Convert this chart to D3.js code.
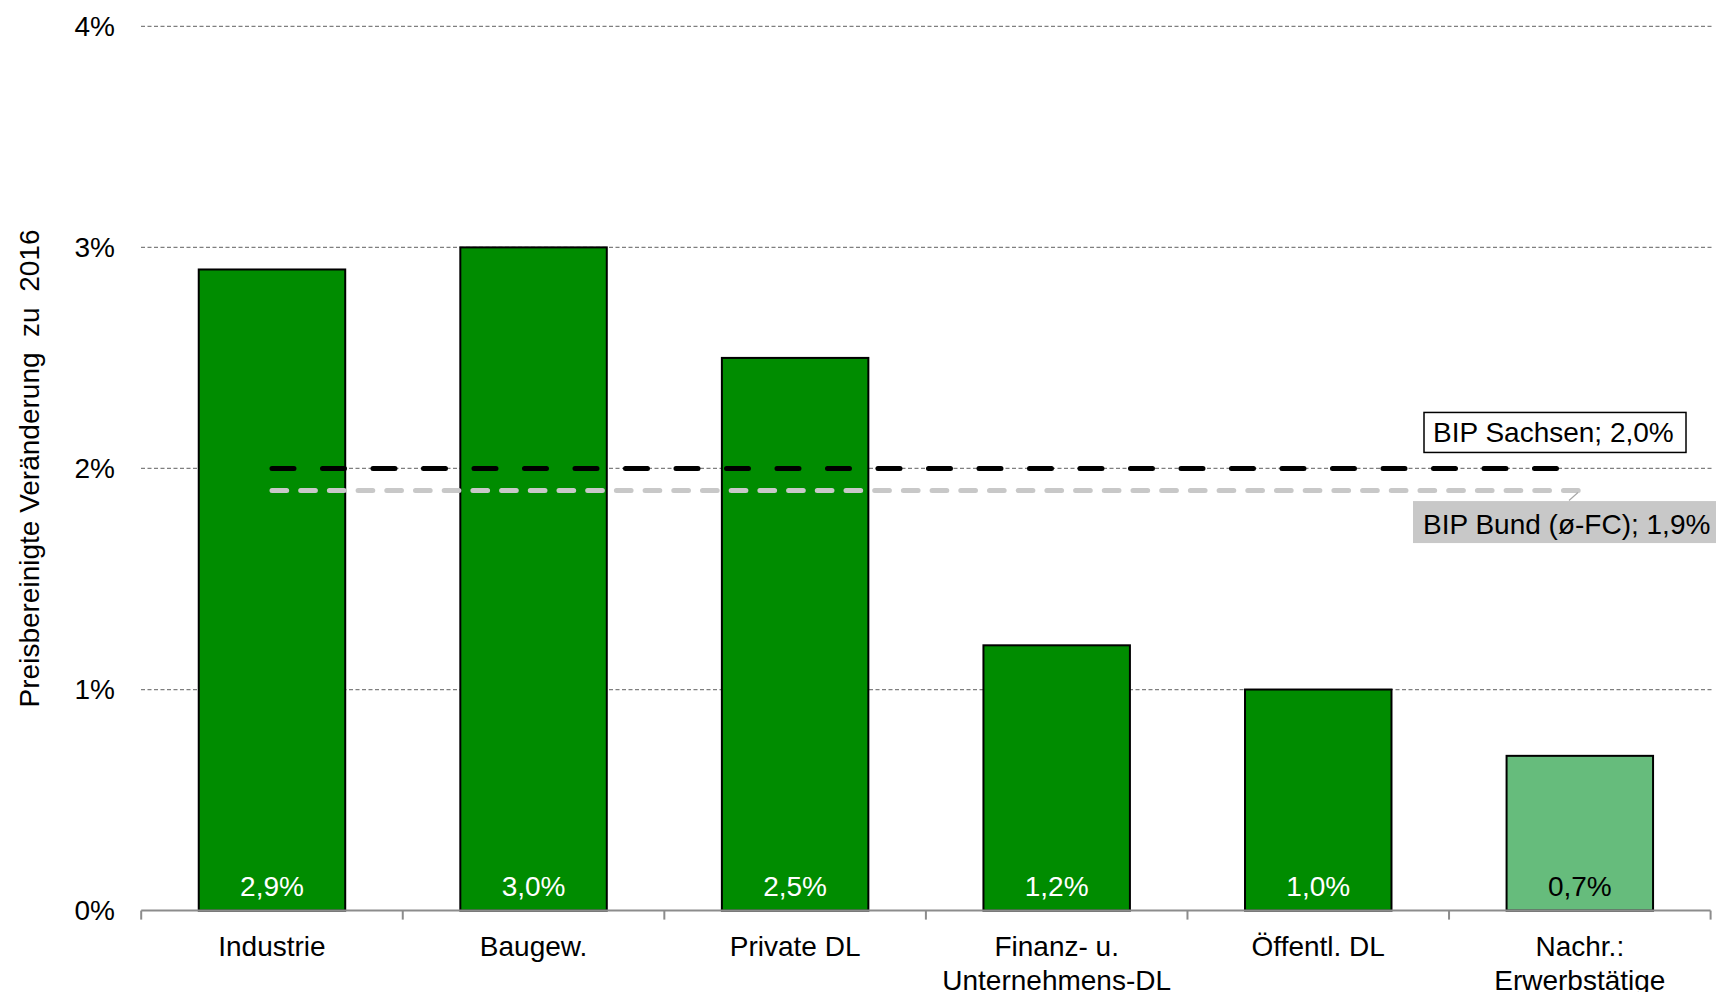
<!DOCTYPE html>
<html lang="de">
<head>
<meta charset="utf-8">
<script src="https://cdn.jsdelivr.net/npm/d3@7"></script>
<style>
  html, body { margin: 0; padding: 0; background: #ffffff; }
  svg { display: block; font-family: "Liberation Sans", Arial, sans-serif; }
</style>
</head>
<body>
<svg id="chart" width="1716" height="992"></svg>
<script>
// Sectors and their real change vs. 2016 (percent)
const categories = [
  ["Industrie"],
  ["Baugew."],
  ["Private DL"],
  ["Finanz- u.", "Unternehmens-DL"],
  ["Öffentl. DL"],
  ["Nachr.:", "Erwerbstätige"]
];
const values = [2.9, 3.0, 2.5, 1.2, 1.0, 0.7];
const valueLabels = ["2,9%", "3,0%", "2,5%", "1,2%", "1,0%", "0,7%"];
const memoFlags = [false, false, false, false, false, true];

// Reference lines (GDP growth)
const refNames = ["BIP Sachsen; 2,0%", "BIP Bund (ø-FC); 1,9%"];
const refValues = [2.0, 1.9];

const yTicks = [0, 1, 2, 3, 4];
const yTickLabels = ["0%", "1%", "2%", "3%", "4%"];
const yTitle = "Preisbereinigte Veränderung  zu  2016";

const svg = d3.select("#chart");
const FONT = 28;
const GREEN = "#008c00";
const LIGHT_GREEN = "#66bc7c";

const keys = categories.map(c => c.join(" "));
const x = d3.scaleBand()
  .domain(keys)
  .range([141.2, 1710.6])
  .paddingInner(0.44)
  .paddingOuter(0.22);

const y = d3.scaleLinear()
  .domain([0, 4])
  .range([910.6, 26.3]);

// Horizontal dashed gridlines
svg.append("g")
  .selectAll("line")
  .data(yTicks.filter(t => t > 0))
  .join("line")
  .attr("x1", 141).attr("x2", 1713)
  .attr("y1", d => y(d)).attr("y2", d => y(d))
  .attr("stroke", "#7f7f7f")
  .attr("stroke-width", 1.2)
  .attr("stroke-dasharray", "4,2.5");

// Y tick labels
svg.append("g")
  .selectAll("text")
  .data(yTicks)
  .join("text")
  .attr("x", 115)
  .attr("y", d => y(d))
  .attr("dy", "0.35em")
  .attr("text-anchor", "end")
  .attr("font-size", FONT)
  .attr("fill", "#000")
  .text((d, i) => yTickLabels[i]);

// Y axis title
svg.append("text")
  .attr("transform", `translate(39, ${(y(0) + y(4)) / 2}) rotate(-90)`)
  .attr("text-anchor", "middle")
  .attr("font-size", FONT)
  .style("white-space", "pre")
  .attr("fill", "#000")
  .text(yTitle);

// Bars
svg.append("g")
  .selectAll("rect")
  .data(values)
  .join("rect")
  .attr("x", (d, i) => x(keys[i]))
  .attr("y", d => y(d))
  .attr("width", x.bandwidth())
  .attr("height", d => y(0) - y(d))
  .attr("fill", (d, i) => memoFlags[i] ? LIGHT_GREEN : GREEN)
  .attr("stroke", "#000")
  .attr("stroke-width", 2);

// Value labels at the foot of each bar
svg.append("g")
  .selectAll("text")
  .data(values)
  .join("text")
  .attr("x", (d, i) => x(keys[i]) + x.bandwidth() / 2)
  .attr("y", y(0) - 15)
  .attr("text-anchor", "middle")
  .attr("font-size", FONT)
  .attr("fill", (d, i) => memoFlags[i] ? "#000" : "#fff")
  .text((d, i) => valueLabels[i]);

// Category axis: baseline and tick marks between categories
const step = x.step();
const x0 = x.range()[0];
svg.append("line")
  .attr("x1", x0).attr("x2", x.range()[1])
  .attr("y1", y(0)).attr("y2", y(0))
  .attr("stroke", "#8c8c8c")
  .attr("stroke-width", 2);
svg.append("g")
  .selectAll("line")
  .data(d3.range(keys.length + 1))
  .join("line")
  .attr("x1", i => x0 + i * step).attr("x2", i => x0 + i * step)
  .attr("y1", y(0)).attr("y2", y(0) + 9)
  .attr("stroke", "#8c8c8c")
  .attr("stroke-width", 2);

// Category labels (up to two lines)
const catLabels = svg.append("g")
  .selectAll("text")
  .data(categories)
  .join("text")
  .attr("x", (d, i) => x(keys[i]) + x.bandwidth() / 2)
  .attr("y", 956)
  .attr("text-anchor", "middle")
  .attr("font-size", FONT)
  .attr("fill", "#000");
catLabels.each(function(lines) {
  const t = d3.select(this);
  const cx = t.attr("x");
  lines.forEach((ln, j) => {
    t.append("tspan").attr("x", cx).attr("dy", j === 0 ? 0 : 34).text(ln);
  });
});

// Reference lines from first to last category centre
const xStart = x(keys[0]) + x.bandwidth() / 2;
const xEnd = x(keys[keys.length - 1]) + x.bandwidth() / 2;
const refStyles = [
  { color: "#000000", dash: "22,28.5" },
  { color: "#c8c8c8", dash: "14.7,14" }
];
// draw the lighter line first so the black one sits on top
[1, 0].forEach(i => {
  svg.append("line")
    .attr("x1", xStart).attr("x2", xEnd)
    .attr("y1", y(refValues[i])).attr("y2", y(refValues[i]))
    .attr("stroke", refStyles[i].color)
    .attr("stroke-width", 5)
    .attr("stroke-linecap", "round")
    .attr("stroke-dasharray", refStyles[i].dash);
});

// Label: BIP Sachsen (boxed, above its line)
const ySa = y(refValues[0]);
svg.append("rect")
  .attr("x", 1424).attr("y", ySa - 56)
  .attr("width", 262).attr("height", 40)
  .attr("fill", "#fff")
  .attr("stroke", "#000")
  .attr("stroke-width", 1.5);
svg.append("text")
  .attr("x", 1433).attr("y", ySa - 26)
  .attr("font-size", FONT)
  .attr("fill", "#000")
  .text(refNames[0]);

// Label: BIP Bund (grey box below its line, with a short leader)
const yBu = y(refValues[1]);
svg.append("line")
  .attr("x1", 1569).attr("y1", yBu + 10)
  .attr("x2", 1578).attr("y2", yBu + 2)
  .attr("stroke", "#a6a6a6")
  .attr("stroke-width", 1.2);
svg.append("rect")
  .attr("x", 1413).attr("y", yBu + 10.5)
  .attr("width", 320).attr("height", 42)
  .attr("fill", "#c8c8c8");
svg.append("text")
  .attr("x", 1423).attr("y", yBu + 43)
  .attr("font-size", FONT)
  .attr("fill", "#000")
  .text(refNames[1]);
</script>
</body>
</html>
